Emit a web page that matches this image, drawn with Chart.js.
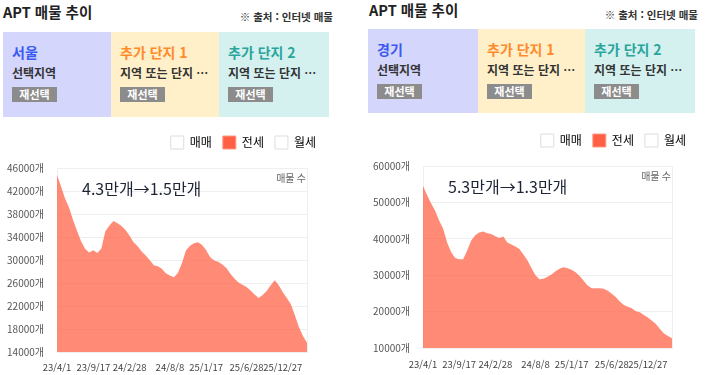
<!DOCTYPE html>
<html lang="ko">
<head>
<meta charset="utf-8">
<script src="https://cdn.jsdelivr.net/npm/chart.js@4/dist/chart.umd.min.js"></script>
<style>
  body { margin: 0; width: 706px; height: 375px; overflow: hidden; background: #fff;
         font-family: "Noto Sans CJK KR", "Noto Sans", sans-serif; position: relative; }
  .abs { position: absolute; }
  .title { font-size: 14.5px; font-weight: 700; color: #222; line-height: 20px; white-space: nowrap; }
  .source { font-size: 10.5px; font-weight: 700; color: #333; line-height: 14px; white-space: nowrap; }
  .box { display: flex; }
  .cell { position: relative; height: 100%; }
  .cell .name { position: absolute; left: 9px; top: 11px; font-size: 14px; font-weight: 700; line-height: 18px; white-space: nowrap; }
  .cell .sub { position: absolute; left: 9px; top: 33px; font-size: 12px; font-weight: 700; color: #333; line-height: 16px; white-space: nowrap; }
  .cell .btn { position: absolute; left: 9px; top: 55px; width: 45px; height: 15px; background: #8c8c8c;
               color: #fff; font-size: 11px; font-weight: 700; line-height: 15px; text-align: center; }
  canvas { position: absolute; }
</style>
</head>
<body>
<!-- left panel -->
<div class="abs title" style="left:3px; top:2px;">APT 매물 추이</div>
<div class="abs source" style="right:373px; top:10px;">※ 출처 : 인터넷 매물</div>
<div class="abs box" style="left:3px; top:32px; width:326px; height:85px;">
  <div class="cell" style="width:108px; background:#d4d6fb;">
    <div class="name" style="color:#3b5af0;">서울</div>
    <div class="sub">선택지역</div>
    <div class="btn">재선택</div>
  </div>
  <div class="cell" style="width:108px; background:#fff0c9;">
    <div class="name" style="color:#ff8a2c;">추가 단지 1</div>
    <div class="sub">지역 또는 단지 …</div>
    <div class="btn">재선택</div>
  </div>
  <div class="cell" style="width:110px; background:#d4f1f0;">
    <div class="name" style="color:#2aa59c;">추가 단지 2</div>
    <div class="sub">지역 또는 단지 …</div>
    <div class="btn">재선택</div>
  </div>
</div>
<canvas id="seoulChart" width="335" height="250" style="left:0px; top:125px;"></canvas>

<!-- right panel -->
<div class="abs title" style="left:369px; top:0px;">APT 매물 추이</div>
<div class="abs source" style="right:8px; top:8px;">※ 출처 : 인터넷 매물</div>
<div class="abs box" style="left:368px; top:29px; width:327px; height:84px;">
  <div class="cell" style="width:110px; background:#d4d6fb;">
    <div class="name" style="color:#3b5af0;">경기</div>
    <div class="sub">선택지역</div>
    <div class="btn">재선택</div>
  </div>
  <div class="cell" style="width:107px; background:#fff0c9;">
    <div class="name" style="color:#ff8a2c;">추가 단지 1</div>
    <div class="sub">지역 또는 단지 …</div>
    <div class="btn">재선택</div>
  </div>
  <div class="cell" style="width:110px; background:#d4f1f0;">
    <div class="name" style="color:#2aa59c;">추가 단지 2</div>
    <div class="sub">지역 또는 단지 …</div>
    <div class="btn">재선택</div>
  </div>
</div>
<canvas id="gyeonggiChart" width="341" height="252" style="left:365px; top:123px;"></canvas>

<script>
// legend names
const legendNames = ['매매', '전세', '월세'];

// x axis: tick positions (point index) and their date labels
const xTickIndex = [0, 9, 18, 28, 37, 47, 56];
const xTickLabels = ['23/4/1', '23/9/17', '24/2/28', '24/8/8', '25/1/17', '25/6/28', '25/12/27'];

// 전세 listings
const seoulListings = [
    44800, 42800, 40700, 39100, 36900, 35000, 33200, 31900, 31300, 31700,
    31200, 32000, 35000, 36000, 36800, 36400, 35900, 35200, 34200, 33100,
    32400, 31500, 30800, 30000, 29100, 28900, 28500, 27700, 27300, 27000,
    27800, 29500, 31700, 32500, 32900, 33100, 32600, 31700, 30500, 29900,
    29700, 29200, 28600, 27600, 26800, 26100, 25700, 25300, 24700, 24000,
    23400, 23900, 24600, 25600, 26500, 25600, 24400, 23400, 22300, 20400,
    18300, 16800, 15600
];
const gyeonggiListings = [
    54500, 52000, 49800, 47800, 45000, 42800, 39000, 36400, 34700, 34400,
    34400, 36800, 39500, 41000, 41700, 42000, 41500, 41300, 40700, 40200,
    40600, 39000, 38400, 37900, 37200, 35700, 34100, 32000, 30000, 28900,
    29000, 29600, 30200, 31100, 31800, 32200, 31900, 31500, 30800, 29800,
    28500, 27200, 26400, 26400, 26400, 26300, 25700, 24900, 24000, 22800,
    21800, 21300, 20900, 20100, 19800, 19100, 18400, 17500, 16600, 15200,
    14000, 13300, 12700
];

// y axis ranges: [min, max, step]
const seoulYRange = [14000, 46000, 4000];
const gyeonggiYRange = [10000, 60000, 10000];

// notes drawn inside the plots
const seoulNote = '4.3만개→1.5만개';
const gyeonggiNote = '5.3만개→1.3만개';

Chart.defaults.font.family = '"Noto Sans CJK KR", "Noto Sans", sans-serif';

// fixed legend height so the plot lands where the picture has it
const legendSpacer = {
    id: 'legendSpacer',
    beforeInit(chart) {
        const fit = chart.legend.fit;
        chart.legend.fit = function () {
            fit.call(this);
            this.height = chart.options.plugins.legendSpacer.height;
        };
    }
};

// "매물 수" and the summary note
const plotText = {
    id: 'plotText',
    afterDatasetsDraw(chart, args, opts) {
        const { ctx, chartArea } = chart;
        ctx.save();
        ctx.textBaseline = 'middle';
        ctx.font = '10px "Noto Sans CJK KR"';
        ctx.fillStyle = '#666';
        ctx.textAlign = 'right';
        ctx.fillText('매물 수', chartArea.right - 1, chartArea.top + 10);
        ctx.font = '16px "Noto Sans CJK KR"';
        ctx.fillStyle = '#1d2435';
        ctx.textAlign = 'left';
        ctx.fillText(opts.note, chartArea.left + 25, chartArea.top + 21);
        ctx.restore();
    }
};

function makeChart(canvasId, values, yRange, note, lay) {
    const ctx = document.getElementById(canvasId).getContext('2d');
    return new Chart(ctx, {
        type: 'line',
        data: {
            labels: values.map((v, i) => i),
            datasets: [
                { label: legendNames[0], data: [], backgroundColor: '#fff', borderColor: '#ddd', borderWidth: 1 },
                {
                    label: legendNames[1],
                    data: values,
                    fill: 'start',
                    backgroundColor: 'rgba(255, 99, 71, 0.74)',
                    borderWidth: 0,
                    pointRadius: 0,
                    tension: 0
                },
                { label: legendNames[2], data: [], backgroundColor: '#fff', borderColor: '#ddd', borderWidth: 1 }
            ]
        },
        options: {
            responsive: false,
            animation: false,
            devicePixelRatio: 1,
            layout: { padding: { left: 0, right: lay.padRight, top: 0, bottom: 0 } },
            plugins: {
                legendSpacer: { height: lay.legendHeight },
                plotText: { note },
                tooltip: { enabled: false },
                legend: {
                    position: 'top',
                    align: 'end',
                    onClick: null,
                    labels: {
                        boxWidth: 13,
                        boxHeight: 13,
                        padding: 11,
                        color: '#555',
                        font: { size: 12 },
                        generateLabels(chart) {
                            return chart.data.datasets.map((ds, i) => ({
                                text: ds.label,
                                fillStyle: i === 1 ? '#ff5f42' : '#fff',
                                strokeStyle: i === 1 ? '#ff9a85' : '#ddd',
                                lineWidth: 1,
                                hidden: false,
                                datasetIndex: i
                            }));
                        }
                    }
                }
            },
            scales: {
                x: {
                    type: 'linear',
                    min: 0,
                    max: values.length - 1,
                    grid: { display: false, drawTicks: false },
                    border: { display: false },
                    afterBuildTicks(scale) {
                        scale.ticks = xTickIndex.map(v => ({ value: v }));
                    },
                    afterFit(scale) { scale.height = lay.xHeight; },
                    ticks: {
                        autoSkip: false,
                        maxRotation: 0,
                        padding: lay.xPad,
                        color: '#444',
                        font: { size: 9.5 },
                        callback: (v) => xTickLabels[xTickIndex.indexOf(v)]
                    }
                },
                y: {
                    min: yRange[0],
                    max: yRange[1],
                    grid: { color: '#efefef', drawTicks: false },
                    border: { color: '#eee' },
                    afterFit(scale) { scale.width = lay.yWidth; },
                    ticks: {
                        stepSize: yRange[2],
                        padding: 13,
                        color: '#555',
                        font: { size: 10 },
                        callback: (v) => v + '개'
                    }
                },
                yR: {
                    position: 'right',
                    grid: { display: false, drawTicks: false },
                    border: { color: '#eee' },
                    ticks: { display: false },
                    afterFit(scale) { scale.width = lay.rightWidth; }
                }
            }
        },
        plugins: [legendSpacer, plotText]
    });
}

makeChart('seoulChart', seoulListings, seoulYRange, seoulNote,
    { padRight: 8, legendHeight: 43, xHeight: 23, xPad: 10, yWidth: 57, rightWidth: 20 });
makeChart('gyeonggiChart', gyeonggiListings, gyeonggiYRange, gyeonggiNote,
    { padRight: 9, legendHeight: 43, xHeight: 27, xPad: 11, yWidth: 58, rightWidth: 25 });
</script>
</body>
</html>
